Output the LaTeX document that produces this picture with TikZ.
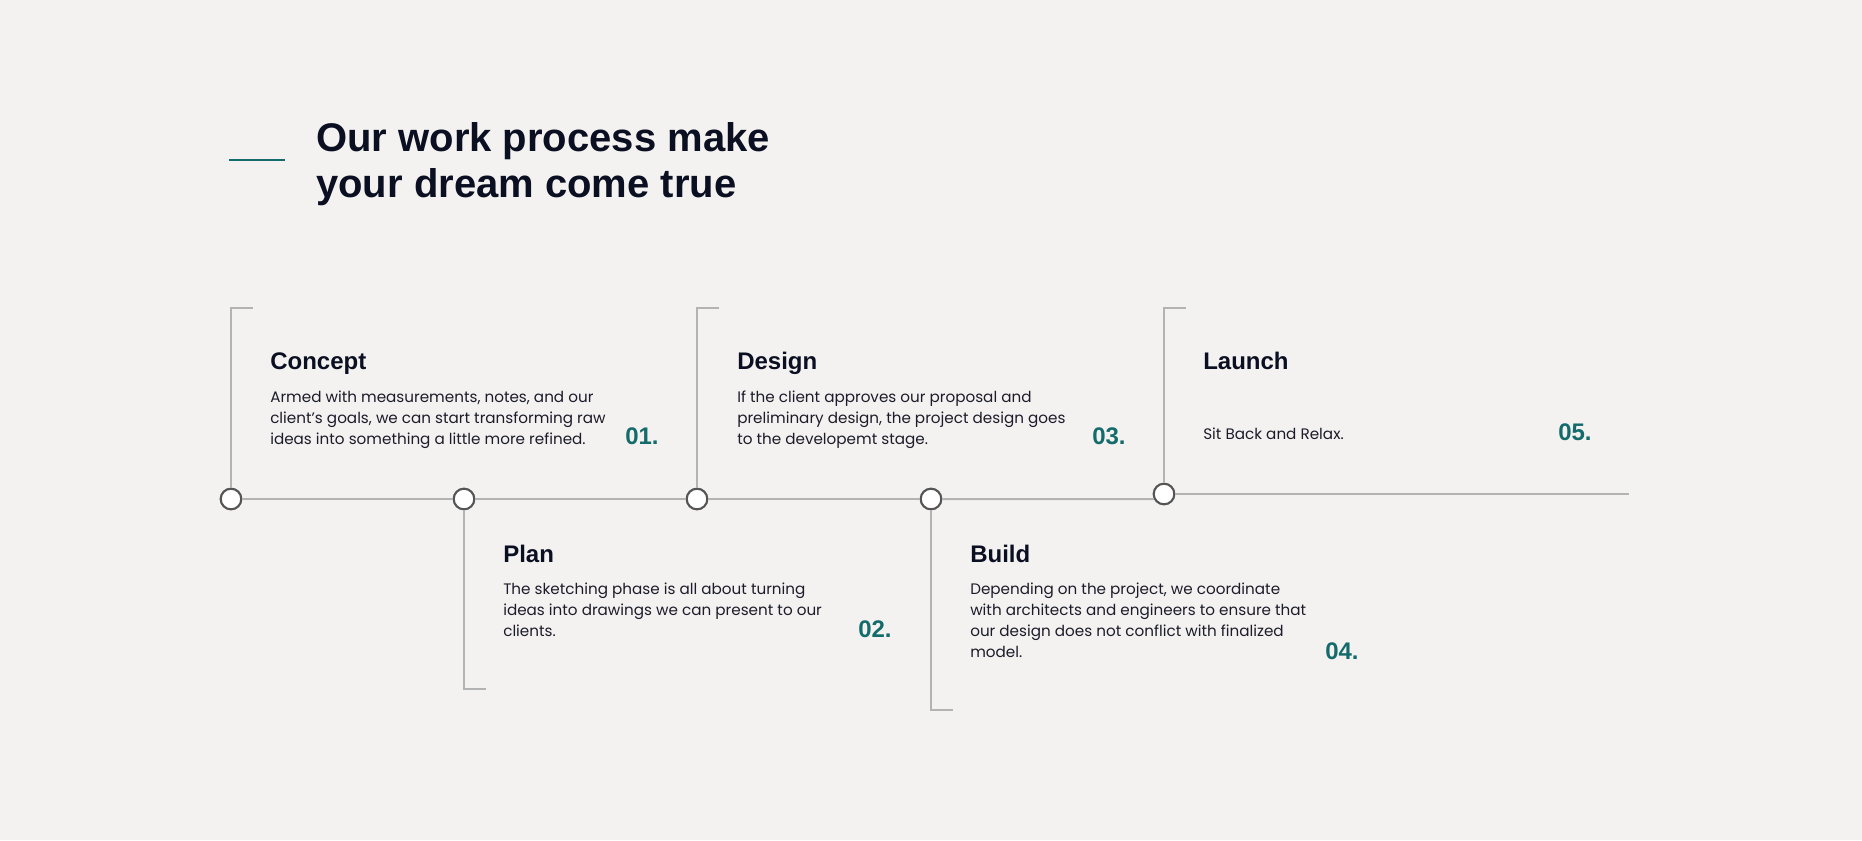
\documentclass[tikz,border=0pt]{standalone}
\usepackage{fontspec}
\setmainfont{Poppins}
\newfontfamily\headfont{Liberation Sans}
\definecolor{paper}{HTML}{F4F2F0}
\definecolor{ink}{HTML}{0B0F22}
\definecolor{bodyink}{HTML}{1C1C2A}
\definecolor{teal}{HTML}{136B6C}
\definecolor{rulegrey}{HTML}{B4B3B3}
\definecolor{ringgrey}{HTML}{555555}
\tikzset{
  rule/.style={draw=rulegrey,line width=1.5pt},
  stop/.style={circle,draw=ringgrey,fill=white,line width=1.6pt,minimum size=15.5pt,inner sep=0pt},
  stagehead/.style={anchor=base west,inner sep=0pt,text=ink,font=\headfont\bfseries\fontsize{18}{20}\selectfont},
  stagebody/.style={anchor=base west,inner sep=0pt,align=left,text=bodyink,font=\fontsize{11.4}{15.75}\selectfont},
  stagenum/.style={anchor=base west,inner sep=0pt,text=teal,font=\headfont\bfseries\fontsize{18}{20}\selectfont}
}
\begin{document}
\begin{tikzpicture}[x=0.75pt,y=-0.75pt]
\fill[paper] (0,0) rectangle (1862,840);
\useasboundingbox (0,0) rectangle (1862,840);

% heading (multi-line nodes sit on their last baseline)
\coordinate (acc1) at (229,160);
\coordinate (acc2) at (285,160);
\draw[teal,line width=1.5pt] (acc1) -- (acc2);
\node[anchor=base west,inner sep=0pt,align=left,text=ink,font=\headfont\bfseries\fontsize{30}{34.5}\selectfont] (title) at (316,197) {Our work process make\\your dream come true};

% timeline stops
\node[stop] (c1) at (231,499) {};
\node[stop] (c2) at (464,499) {};
\node[stop] (c3) at (697,499) {};
\node[stop] (c4) at (931,499) {};
\node[stop] (c5) at (1164,494) {};
\coordinate (tail) at (1629,494);

\draw[rule] (c1) -- (c2);
\draw[rule] (c2) -- (c3);
\draw[rule] (c3) -- (c4);
\draw[rule] (c4) -- (c5.207);
\draw[rule] (c5) -- (tail);

% brackets
\coordinate (k1) at (231,308);
\coordinate (k3) at (697,308);
\coordinate (k5) at (1164,308);
\coordinate (k2) at (464,689);
\coordinate (k4) at (931,710);
\draw[rule] (c1) -- (k1) -- ++(22,0);
\draw[rule] (c3) -- (k3) -- ++(22,0);
\draw[rule] (c5) -- (k5) -- ++(22,0);
\draw[rule] (c2) -- (k2) -- ++(22,0);
\draw[rule] (c4) -- (k4) -- ++(22,0);

% stages
\node[stagehead] (h1) at (270,369) {Concept};
\node[stagebody] (b1) at (270,444) {Armed with measurements, notes, and our\\client’s goals, we can start transforming raw\\ideas into something a little more refined.};
\node[stagenum] (n1) at (625,444) {01.};

\node[stagehead] (h2) at (503,562) {Plan};
\node[stagebody] (b2) at (503,636) {The sketching phase is all about turning\\ideas into drawings we can present to our\\clients.};
\node[stagenum] (n2) at (858,637) {02.};

\node[stagehead] (h3) at (737,369) {Design};
\node[stagebody] (b3) at (737,444) {If the client approves our proposal and\\preliminary design, the project design goes\\to the developemt stage.};
\node[stagenum] (n3) at (1092,444) {03.};

\node[stagehead] (h4) at (970,562) {Build};
\node[stagebody] (b4) at (970,657) {Depending on the project, we coordinate\\with architects and engineers to ensure that\\our design does not conflict with finalized\\model.};
\node[stagenum] (n4) at (1325,659) {04.};

\node[stagehead] (h5) at (1203,369) {Launch};
\node[stagebody] (b5) at (1203,439) {Sit Back and Relax.};
\node[stagenum] (n5) at (1558,440) {05.};
\end{tikzpicture}
\end{document}
